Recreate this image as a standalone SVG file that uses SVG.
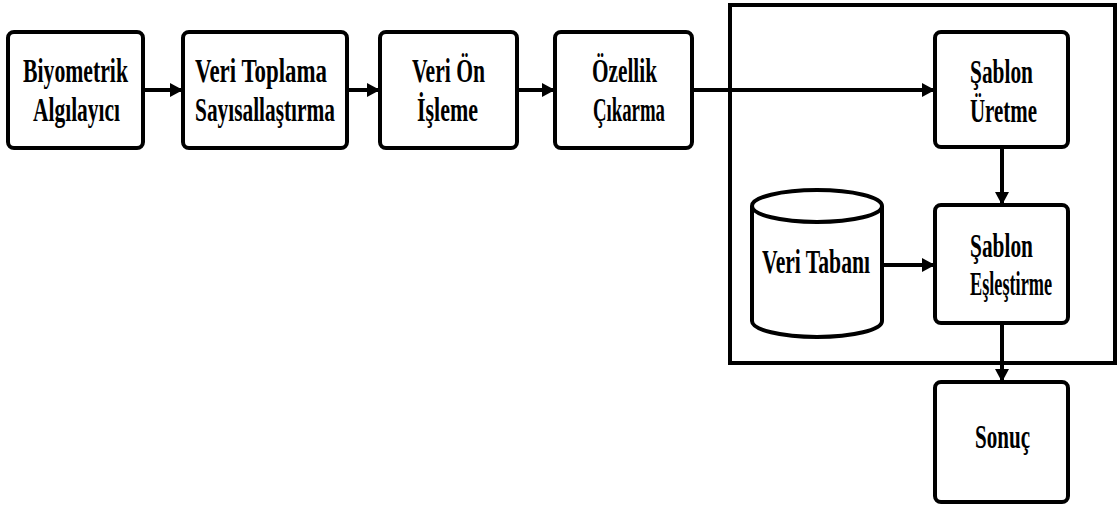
<svg xmlns="http://www.w3.org/2000/svg" width="1118" height="506" viewBox="0 0 1118 506">
  <style>
    .box { fill: #ffffff; stroke: #000000; stroke-width: 4; }
    .frame { fill: none; stroke: #000000; stroke-width: 4; }
    .lbl { font-family: 'Liberation Serif', 'DejaVu Serif', serif; font-weight: 700; font-size: 33px; fill: #000000; text-anchor: middle; }
    .wire { fill: none; stroke: #000000; stroke-width: 4; }
  </style>
  <defs>
    <marker id="head" markerUnits="userSpaceOnUse" markerWidth="14" markerHeight="16" refX="13" refY="8" orient="auto">
      <path d="M0,1 L13,8 L0,15 Z" fill="#000000"/>
    </marker>
  </defs>

  <rect width="1118" height="506" fill="#ffffff"/>

  <!-- matching subsystem frame -->
  <rect id="matcher-frame" class="frame" x="730" y="5" width="385" height="358"/>

  <!-- connectors -->
  <g id="connectors">
    <path class="wire" d="M143,90 H183" marker-end="url(#head)"/>
    <path class="wire" d="M347,90 H380" marker-end="url(#head)"/>
    <path class="wire" d="M517,90 H555" marker-end="url(#head)"/>
    <path class="wire" d="M692,90 H935" marker-end="url(#head)"/>
    <path class="wire" d="M1002,147 V205" marker-end="url(#head)"/>
    <path class="wire" d="M882,265 H935" stroke-width="5" marker-end="url(#head)"/>
    <path class="wire" d="M1002,323 V382" marker-end="url(#head)"/>
  </g>

  <g id="sensor">
    <rect class="box" x="8" y="32" width="135" height="116" rx="6"/>
    <text class="lbl" font-family="Liberation Serif" x="75.5" y="82" textLength="105" lengthAdjust="spacingAndGlyphs">Biyometrik</text>
    <text class="lbl" font-family="Liberation Serif" x="76.5" y="121" textLength="87" lengthAdjust="spacingAndGlyphs">Algılayıcı</text>
  </g>

  <g id="acquisition">
    <rect class="box" x="183" y="32" width="164" height="116" rx="6"/>
    <text class="lbl" font-family="Liberation Serif" x="261" y="82" textLength="132" lengthAdjust="spacingAndGlyphs">Veri Toplama</text>
    <text class="lbl" font-family="Liberation Serif" x="265" y="121" textLength="140" lengthAdjust="spacingAndGlyphs">Sayısallaştırma</text>
  </g>

  <g id="preprocessing">
    <rect class="box" x="380" y="32" width="137" height="116" rx="6"/>
    <text class="lbl" font-family="Liberation Serif" x="448.5" y="82" textLength="73" lengthAdjust="spacingAndGlyphs">Veri Ön</text>
    <text class="lbl" font-family="Liberation Serif" x="447.5" y="121" textLength="61" lengthAdjust="spacingAndGlyphs">İşleme</text>
  </g>

  <g id="feature-extraction">
    <rect class="box" x="555" y="32" width="137" height="116" rx="6"/>
    <text class="lbl" font-family="Liberation Serif" x="624.5" y="82" textLength="65" lengthAdjust="spacingAndGlyphs">Özellik</text>
    <text class="lbl" font-family="Liberation Serif" x="629" y="121" textLength="72" lengthAdjust="spacingAndGlyphs">Çıkarma</text>
  </g>

  <g id="template-generation">
    <rect class="box" x="935" y="32" width="133" height="115" rx="6"/>
    <text class="lbl" font-family="Liberation Serif" x="1001.5" y="83" textLength="63" lengthAdjust="spacingAndGlyphs">Şablon</text>
    <text class="lbl" font-family="Liberation Serif" x="1003.5" y="122" textLength="67" lengthAdjust="spacingAndGlyphs">Üretme</text>
  </g>

  <g id="database">
    <path class="box" d="M752,206 V321 A65,16 0 0 0 882,321 V206 A65,16 0 0 0 752,206 Z"/>
    <path class="frame" d="M752,206 A65,16 0 0 0 882,206"/>
    <text class="lbl" font-family="Liberation Serif" x="816" y="273" textLength="108" lengthAdjust="spacingAndGlyphs">Veri Tabanı</text>
  </g>

  <g id="template-matching">
    <rect class="box" x="935" y="205" width="133" height="118" rx="6"/>
    <text class="lbl" font-family="Liberation Serif" x="1001.5" y="257" textLength="63" lengthAdjust="spacingAndGlyphs">Şablon</text>
    <text class="lbl" font-family="Liberation Serif" x="1011" y="295" textLength="82" lengthAdjust="spacingAndGlyphs">Eşleştirme</text>
  </g>

  <g id="result">
    <rect class="box" x="935" y="382" width="133" height="120" rx="6"/>
    <text class="lbl" font-family="Liberation Serif" x="1002.5" y="448" textLength="55" lengthAdjust="spacingAndGlyphs">Sonuç</text>
  </g>
</svg>
